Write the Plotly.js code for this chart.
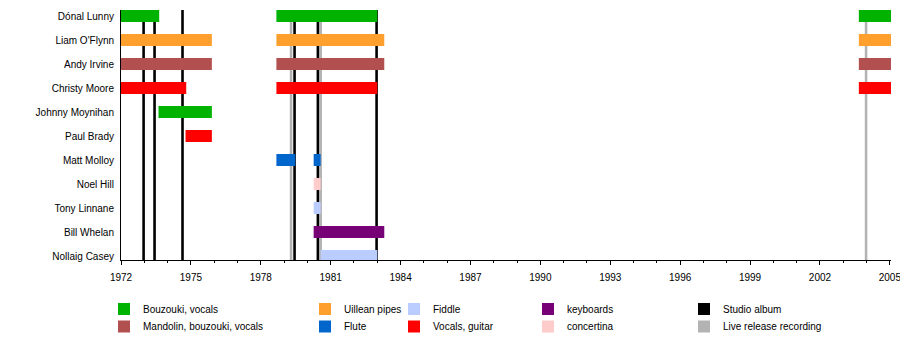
<!DOCTYPE html>
<html>
<head>
<meta charset="utf-8">
<script src="https://cdn.plot.ly/plotly-3.0.1.min.js"></script>
<style>
  html, body { margin: 0; padding: 0; background: #ffffff; }
  #chart { width: 900px; height: 340px; }
</style>
</head>
<body>
<div id="chart"></div>
<script>
// ---- Data ----
const members = ["Dónal Lunny", "Liam O'Flynn", "Andy Irvine", "Christy Moore", "Johnny Moynihan",
  "Paul Brady", "Matt Molloy", "Noel Hill", "Tony Linnane", "Bill Whelan", "Nollaig Casey"];

const roles = ["Bouzouki, vocals", "Mandolin, bouzouki, vocals", "Uillean pipes", "Flute",
  "Fiddle", "Vocals, guitar", "keyboards", "concertina"];

const barMember = [
  "Dónal Lunny", "Liam O'Flynn", "Andy Irvine", "Christy Moore", "Johnny Moynihan", "Paul Brady",
  "Dónal Lunny", "Liam O'Flynn", "Andy Irvine", "Christy Moore", "Matt Molloy", "Matt Molloy",
  "Noel Hill", "Tony Linnane", "Bill Whelan", "Nollaig Casey",
  "Dónal Lunny", "Liam O'Flynn", "Andy Irvine", "Christy Moore"];
const barRole = [
  "Bouzouki, vocals", "Uillean pipes", "Mandolin, bouzouki, vocals", "Vocals, guitar", "Bouzouki, vocals", "Vocals, guitar",
  "Bouzouki, vocals", "Uillean pipes", "Mandolin, bouzouki, vocals", "Vocals, guitar", "Flute", "Flute",
  "concertina", "Fiddle", "keyboards", "Fiddle",
  "Bouzouki, vocals", "Uillean pipes", "Mandolin, bouzouki, vocals", "Vocals, guitar"];
const barStart = [
  1972.0, 1972.0, 1972.0, 1972.0, 1973.61, 1974.77,
  1978.67, 1978.67, 1978.67, 1978.67, 1978.67, 1980.27,
  1980.27, 1980.27, 1980.27, 1980.57,
  2003.67, 2003.67, 2003.67, 2003.67];
const barEnd = [
  1973.64, 1975.9, 1975.9, 1974.8, 1975.9, 1975.9,
  1983.0, 1983.3, 1983.3, 1983.0, 1979.48, 1980.57,
  1980.57, 1980.57, 1983.3, 1983.0,
  2005.05, 2005.05, 2005.05, 2005.05];

const studioAlbums = [1972.97, 1973.44, 1974.64, 1979.45, 1980.45, 1982.97];
const liveReleases = [1979.3, 1980.57, 2003.98];

const xTickVals = [1972, 1975, 1978, 1981, 1984, 1987, 1990, 1993, 1996, 1999, 2002, 2005];
const xTickText = ["1972", "1975", "1978", "1981", "1984", "1987", "1990", "1993", "1996", "1999", "2002", "2005"];

const legendColumns = [
  ["Bouzouki, vocals", "Mandolin, bouzouki, vocals"],
  ["Uillean pipes", "Flute"],
  ["Fiddle", "Vocals, guitar"],
  ["keyboards", "concertina"],
  ["Studio album", "Live release recording"]
];

// ---- Styles ----
const colors = {
  "Bouzouki, vocals": "#00b300",
  "Mandolin, bouzouki, vocals": "#b24f4f",
  "Uillean pipes": "#ffa02e",
  "Flute": "#0066cc",
  "Fiddle": "#bbccff",
  "Vocals, guitar": "#ff0000",
  "keyboards": "#770077",
  "concertina": "#ffcccc",
  "Studio album": "#000000",
  "Live release recording": "#b3b3b3"
};
const FONT = "'Liberation Sans', Arial, Helvetica, sans-serif";

// ---- Traces ----
const traces = roles.map(role => {
  const idx = barRole.map((r, i) => r === role ? i : -1).filter(i => i >= 0);
  return {
    type: "bar",
    orientation: "h",
    name: role,
    y: idx.map(i => barMember[i]),
    base: idx.map(i => barStart[i]),
    x: idx.map(i => barEnd[i] - barStart[i]),
    width: 0.5,
    marker: { color: colors[role], line: { width: 0 } },
    showlegend: false,
    hoverinfo: "skip"
  };
});

// ---- Shapes: release lines ----
const shapes = [];
liveReleases.forEach(x => shapes.push({
  type: "line", xref: "x", yref: "paper", x0: x, x1: x, y0: 0, y1: 1,
  line: { color: colors["Live release recording"], width: 2.6 }, layer: "below"
}));
studioAlbums.forEach(x => shapes.push({
  type: "line", xref: "x", yref: "paper", x0: x, x1: x, y0: 0, y1: 1,
  line: { color: colors["Studio album"], width: 2.6 }, layer: "below"
}));

// ---- Custom legend (layout) ----
const plotL = 121, plotR = 891, plotT = 10, plotB = 260;
const pw = plotR - plotL, ph = plotB - plotT;
const colSwatchX = [118, 319, 408, 542, 698];
const rowY = [309, 326.5];
const sw = 12;
const annotations = [];
legendColumns.forEach((col, ci) => {
  col.forEach((label, ri) => {
    const sx = colSwatchX[ci], cy = rowY[ri];
    shapes.push({
      type: "rect", xref: "paper", yref: "paper",
      x0: (sx - plotL) / pw, x1: (sx + sw - plotL) / pw,
      y0: (plotB - (cy + sw / 2)) / ph, y1: (plotB - (cy - sw / 2)) / ph,
      fillcolor: colors[label], line: { width: 0 }
    });
    annotations.push({
      xref: "paper", yref: "paper",
      x: (sx + 23 - plotL) / pw, y: (plotB - cy) / ph,
      xanchor: "left", yanchor: "middle", showarrow: false,
      text: label, font: { family: FONT, size: 10, color: "#000" }
    });
  });
});

const layout = {
  width: 900, height: 340,
  margin: { l: plotL, r: 900 - plotR, t: plotT, b: 340 - plotB, pad: 0 },
  paper_bgcolor: "#ffffff", plot_bgcolor: "#ffffff",
  barmode: "overlay",
  showlegend: false,
  font: { family: FONT, size: 10, color: "#000" },
  xaxis: {
    range: [1972, 2005.05],
    tickvals: xTickVals, ticktext: xTickText,
    ticks: "outside", ticklen: 4, tickwidth: 1, tickcolor: "#000",
    ticklabeloverflow: "allow",
    ticklabelstandoff: 4,
    minor: { dtick: 1, tick0: 1972, ticks: "outside", ticklen: 2, tickcolor: "#000", tickwidth: 1 },
    showline: true, linecolor: "#000", linewidth: 1,
    showgrid: false, zeroline: false,
    tickfont: { family: FONT, size: 10, color: "#000" },
    fixedrange: true, automargin: false
  },
  yaxis: {
    type: "category",
    categoryorder: "array", categoryarray: members,
    range: [10.1667, -0.25],
    ticks: "", showline: true, linecolor: "#000", linewidth: 1,
    showgrid: false, zeroline: false,
    ticklabelstandoff: 4,
    tickfont: { family: FONT, size: 10, color: "#000" },
    fixedrange: true, automargin: false
  },
  shapes: shapes,
  annotations: annotations,
  hovermode: false
};

Plotly.newPlot("chart", traces, layout, { displayModeBar: false, staticPlot: true });
</script>
</body>
</html>
